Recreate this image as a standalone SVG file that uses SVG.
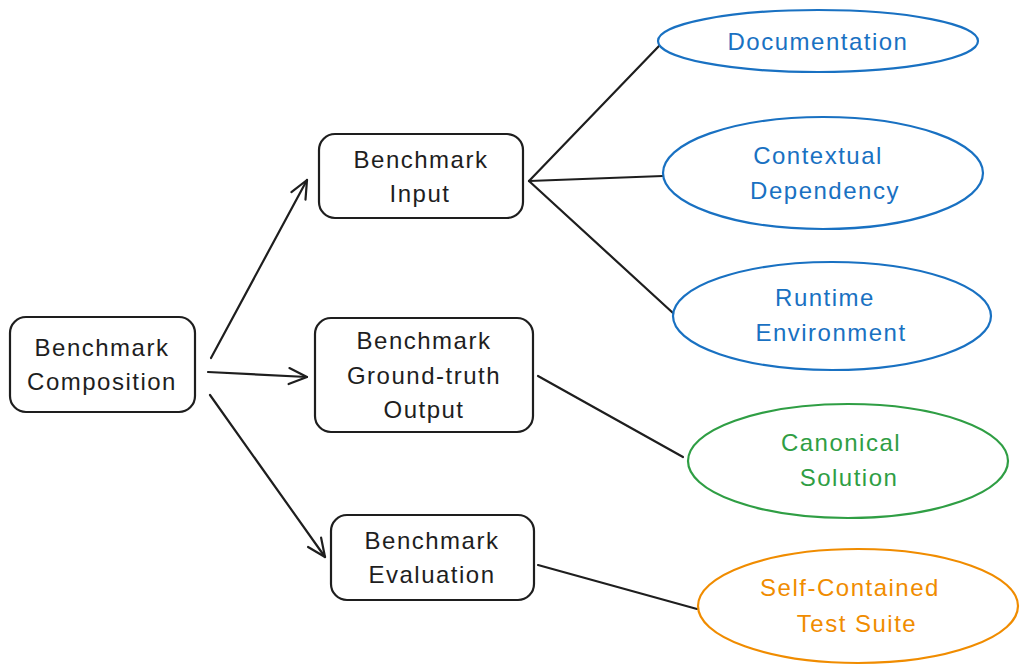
<svg xmlns="http://www.w3.org/2000/svg" width="1027" height="672" viewBox="0 0 1027 672">
<style>
.box{fill:#ffffff;stroke:#1e1e1e;stroke-width:2.2}
.ell{fill:none;stroke-width:2.2}
.blue{stroke:#1971c2}
.green{stroke:#2f9e44}
.orange{stroke:#f08c00}
text{font-family:"Liberation Sans","Noto Sans",sans-serif;font-size:24px;text-anchor:middle;letter-spacing:1.5px}
.tk{fill:#1e1e1e}
.tb{fill:#1971c2}
.tg{fill:#2f9e44}
.to{fill:#f08c00}
.ln{stroke:#1e1e1e;stroke-width:2.2;fill:none;stroke-linecap:round}
</style>
<defs>
<marker id="arr" markerUnits="userSpaceOnUse" markerWidth="30" markerHeight="30" refX="20" refY="10" orient="auto" viewBox="0 0 30 20">
<path d="M2,2 L20,10 L2,18" fill="none" stroke="#1e1e1e" stroke-width="2.2" stroke-linecap="round" stroke-linejoin="round"/>
</marker>
</defs>
<g id="connectors">
<line class="ln" x1="211" y1="358" x2="307" y2="180" marker-end="url(#arr)"/>
<line class="ln" x1="208" y1="372" x2="307" y2="377" marker-end="url(#arr)"/>
<line class="ln" x1="210" y1="395" x2="325" y2="557" marker-end="url(#arr)"/>
<line class="ln" x1="529" y1="181" x2="659" y2="46"/>
<line class="ln" x1="529" y1="181" x2="663" y2="176" stroke-width="3"/>
<line class="ln" x1="529" y1="181" x2="673" y2="313"/>
<line class="ln" x1="538" y1="376" x2="683" y2="457" stroke-width="3"/>
<line class="ln" x1="538" y1="565" x2="697" y2="609" stroke-width="3"/>
</g>
<g id="composition">
<rect class="box" x="10" y="317" width="185" height="95" rx="16"/>
<text class="tk" x="102" y="356">Benchmark</text>
<text class="tk" x="102" y="390">Composition</text>
</g>
<g id="input">
<rect class="box" x="319" y="134" width="204" height="84" rx="16"/>
<text class="tk" x="421" y="168">Benchmark</text>
<text class="tk" x="420" y="202">Input</text>
</g>
<g id="groundtruth">
<rect class="box" x="315" y="318" width="218" height="114" rx="16"/>
<text class="tk" x="424" y="349">Benchmark</text>
<text class="tk" x="424" y="384">Ground-truth</text>
<text class="tk" x="424" y="418">Output</text>
</g>
<g id="evaluation">
<rect class="box" x="331" y="515" width="203" height="85" rx="16"/>
<text class="tk" x="432" y="549">Benchmark</text>
<text class="tk" x="432" y="583">Evaluation</text>
</g>
<g id="documentation">
<ellipse class="ell blue" cx="818" cy="41" rx="160" ry="31"/>
<text class="tb" x="818" y="50">Documentation</text>
</g>
<g id="contextual">
<ellipse class="ell blue" cx="823" cy="173" rx="160" ry="56"/>
<text class="tb" x="818" y="164">Contextual</text>
<text class="tb" x="825" y="199">Dependency</text>
</g>
<g id="runtime">
<ellipse class="ell blue" cx="832" cy="316" rx="159" ry="54"/>
<text class="tb" x="825" y="306">Runtime</text>
<text class="tb" x="831" y="341">Environment</text>
</g>
<g id="canonical">
<ellipse class="ell green" cx="848" cy="461" rx="160" ry="57"/>
<text class="tg" x="841" y="451">Canonical</text>
<text class="tg" x="849" y="486">Solution</text>
</g>
<g id="selfcontained">
<ellipse class="ell orange" cx="858" cy="606" rx="160" ry="57"/>
<text class="to" x="850" y="596">Self-Contained</text>
<text class="to" x="857" y="632">Test Suite</text>
</g>
</svg>
